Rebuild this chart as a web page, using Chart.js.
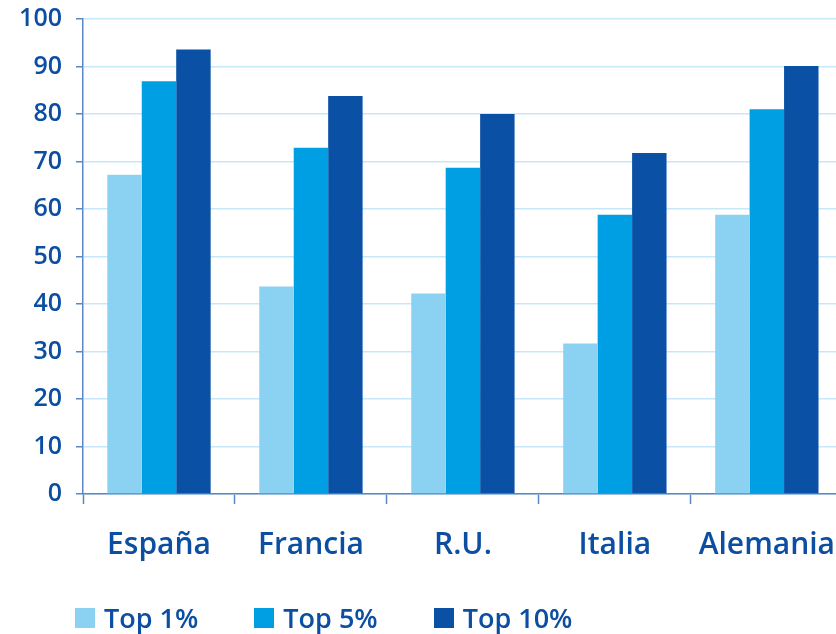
<!DOCTYPE html>
<html lang="es">
<head>
<meta charset="utf-8">
<title>Top 1%, Top 5%, Top 10%</title>
<script src="https://cdn.jsdelivr.net/npm/chart.js@4/dist/chart.umd.min.js"></script>
<style>
  html, body { margin: 0; padding: 0; background: #fff; overflow: hidden; width: 836px; height: 634px; }
  #wrap { position: absolute; left: 0; top: -10px; width: 858px; height: 634px; }
  #legend { position: absolute; left: 75px; top: 604px; display: flex; gap: 56px;
            font-family: "Open Sans", sans-serif; font-weight: 600; font-size: 27px; line-height: 27px; color: #0b4ea2; }
  #legend .item { display: flex; align-items: center; white-space: nowrap; }
  #legend .box { width: 20px; height: 20px; margin-right: 9px; }
</style>
</head>
<body>
<div id="wrap"><canvas id="myChart"></canvas></div>
<div id="legend"></div>
<script>
const categories = ['España', 'Francia', 'R.U.', 'Italia', 'Alemania'];
const seriesNames = ['Top 1%', 'Top 5%', 'Top 10%'];
const top1 = [67.2, 43.7, 42.2, 31.7, 58.8];
const top5 = [86.9, 72.9, 68.7, 58.8, 81.0];
const top10 = [93.6, 83.8, 80.0, 71.8, 90.1];
const yMin = 0, yMax = 100, yStep = 10;

const colors = ['#8ad1f2', '#009fe3', '#0a51a5'];
const textColor = '#0b4ea2';
const axisColor = '#5b87c5';
const gridColor = '#c8e7f8';

const datasets = [top1, top5, top10].map((values, i) => ({
  label: seriesNames[i],
  data: values,
  backgroundColor: colors[i],
  borderWidth: 0,
  categoryPercentage: 0.68,
  barPercentage: 1
}));

const ctx = document.getElementById('myChart').getContext('2d');
new Chart(ctx, {
  type: 'bar',
  data: { labels: categories, datasets: datasets },
  options: {
    responsive: true,
    maintainAspectRatio: false,
    animation: false,
    layout: { padding: { top: 3, right: 0, bottom: 38, left: 0 } },
    plugins: {
      legend: { display: false },
      tooltip: { enabled: false }
    },
    scales: {
      x: {
        grid: { display: true, drawOnChartArea: false, offset: true, tickLength: 10, tickColor: axisColor, tickWidth: 1.5 },
        border: { color: axisColor, width: 1.5 },
        ticks: { color: textColor, padding: 23, font: { family: 'Open Sans', size: 30, weight: '600' } }
      },
      y: {
        min: yMin,
        max: yMax,
        afterFit: (scale) => { scale.width = 83; },
        grid: { color: gridColor, lineWidth: 1.5, tickLength: 7, tickColor: axisColor, tickWidth: 1.5 },
        border: { color: axisColor, width: 1.5 },
        ticks: { stepSize: yStep, color: textColor, padding: 14, font: { family: 'Open Sans', size: 25, weight: '600' } }
      }
    }
  }
});

// legend row under the chart
const legend = document.getElementById('legend');
seriesNames.forEach((name, i) => {
  const item = document.createElement('div');
  item.className = 'item';
  const box = document.createElement('span');
  box.className = 'box';
  box.style.background = colors[i];
  item.appendChild(box);
  item.appendChild(document.createTextNode(name));
  legend.appendChild(item);
});
</script>
</body>
</html>
